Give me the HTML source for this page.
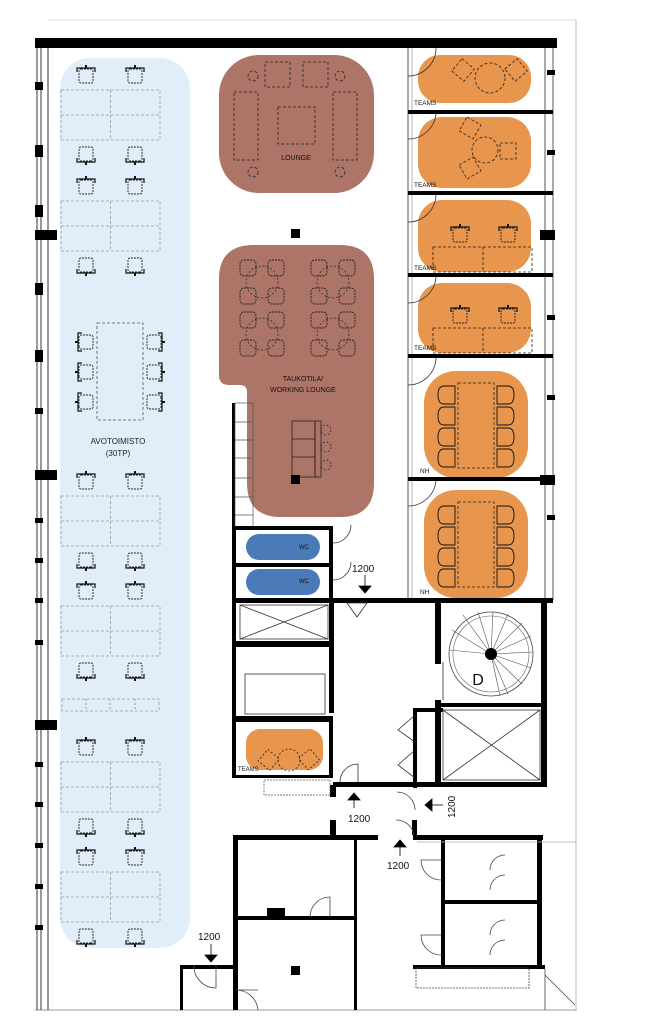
<!DOCTYPE html>
<html><head><meta charset="utf-8"><style>
html,body{margin:0;padding:0;background:#fff}
svg{display:block}
text{font-family:"Liberation Sans",sans-serif}
</style></head><body>
<svg width="653" height="1023" viewBox="0 0 653 1023" xmlns="http://www.w3.org/2000/svg">
<defs>
<g id="ch"><rect x="-7" y="-7" width="14" height="14" rx="2" fill="none" stroke="#222" stroke-width="0.9" stroke-dasharray="2,1"/><path d="M-9,-4 L-9,-8 L9,-8 L9,-4" fill="none" stroke="#111" stroke-width="1.2"/><rect x="-1" y="-11" width="2" height="3" fill="#111"/></g>
<g id="rch"><rect x="-8" y="-8" width="16" height="16" rx="4" fill="none" stroke="#222" stroke-width="0.9" stroke-dasharray="2,1"/></g>
<g id="mch"><path d="M-6,-9 Q-12,-9 -12,0 Q-12,9 -6,9 L5,9 L5,-9 Z" fill="none" stroke="#111" stroke-width="0.9"/></g>
<g id="tbl4"><circle r="16" fill="none" stroke="#222" stroke-width="0.7" stroke-dasharray="2,2"/><use href="#rch" x="-14" y="-14"/><use href="#rch" x="14" y="-14"/><use href="#rch" x="-14" y="14"/><use href="#rch" x="14" y="14"/></g>
<g id="desk"><rect x="0" y="0" width="99" height="50" fill="none" stroke="#999" stroke-width="0.8" stroke-dasharray="3,2"/><line x1="49.5" y1="0" x2="49.5" y2="50" stroke="#999" stroke-width="0.8" stroke-dasharray="3,2"/><line x1="0" y1="25" x2="99" y2="25" stroke="#999" stroke-width="0.8" stroke-dasharray="3,2"/><use href="#ch" x="25" y="-14"/><use href="#ch" x="74" y="-14"/><use href="#ch" x="25" y="64" transform="rotate(180 25 64)"/><use href="#ch" x="74" y="64" transform="rotate(180 74 64)"/></g>
</defs>

<line x1="35" y1="1010" x2="577" y2="1010" stroke="#999" stroke-width="1"/>
<line x1="576" y1="20" x2="576" y2="1010" stroke="#bbb" stroke-width="1"/>
<line x1="48" y1="20" x2="576" y2="20" stroke="#ddd" stroke-width="1"/>

<rect x="60" y="58" width="130" height="890" rx="30" fill="#e1eefa"/>
<use href="#desk" x="61" y="90"/>
<use href="#desk" x="61" y="201"/>
<use href="#desk" x="61" y="496"/>
<use href="#desk" x="61" y="606"/>
<use href="#desk" x="61" y="762"/>
<use href="#desk" x="61" y="872"/>
<rect x="62" y="699" width="97" height="12" fill="none" stroke="#999" stroke-width="0.8" stroke-dasharray="3,2"/>
<line x1="86" y1="699" x2="86" y2="711" stroke="#999" stroke-dasharray="2,2"/><line x1="110" y1="699" x2="110" y2="711" stroke="#999" stroke-dasharray="2,2"/><line x1="135" y1="699" x2="135" y2="711" stroke="#999" stroke-dasharray="2,2"/>
<rect x="97" y="323" width="46" height="97" fill="none" stroke="#555" stroke-width="0.8" stroke-dasharray="3,2"/>
<use href="#ch" x="86" y="342" transform="rotate(-90 86 342)"/><use href="#ch" x="86" y="372" transform="rotate(-90 86 372)"/><use href="#ch" x="86" y="402" transform="rotate(-90 86 402)"/>
<use href="#ch" x="154" y="342" transform="rotate(90 154 342)"/><use href="#ch" x="154" y="372" transform="rotate(90 154 372)"/><use href="#ch" x="154" y="402" transform="rotate(90 154 402)"/>
<text x="118" y="444" font-size="8" text-anchor="middle" fill="#222">AVOTOIMISTO</text>
<text x="118" y="456" font-size="8" text-anchor="middle" fill="#222">(30TP)</text>

<rect x="35" y="38" width="522" height="10" fill="#000"/>
<line x1="37" y1="48" x2="37" y2="1010" stroke="#333" stroke-width="1"/>
<line x1="41" y1="48" x2="41" y2="1010" stroke="#333" stroke-width="1"/>
<line x1="48" y1="48" x2="48" y2="1010" stroke="#333" stroke-width="1"/>
<g fill="#000">
<rect x="35" y="82" width="8" height="8"/><rect x="35" y="145" width="8" height="12"/><rect x="35" y="205" width="8" height="12"/><rect x="35" y="230" width="22" height="10"/>
<rect x="35" y="283" width="8" height="12"/><rect x="35" y="350" width="8" height="12"/><rect x="35" y="408" width="8" height="6"/><rect x="35" y="470" width="22" height="10"/>
<rect x="35" y="518" width="8" height="5"/><rect x="35" y="558" width="8" height="5"/><rect x="35" y="598" width="8" height="5"/><rect x="35" y="640" width="8" height="5"/><rect x="35" y="720" width="22" height="10"/>
<rect x="35" y="762" width="8" height="5"/><rect x="35" y="802" width="8" height="5"/><rect x="35" y="843" width="8" height="5"/><rect x="35" y="884" width="8" height="5"/><rect x="35" y="925" width="8" height="5"/>
</g>

<rect x="219" y="55" width="155" height="138" rx="40" fill="#ac7568"/>
<g fill="none" stroke="#222" stroke-width="0.8" stroke-dasharray="3,2">
<rect x="265" y="62" width="25" height="25"/><rect x="303" y="62" width="25" height="25"/>
<rect x="234" y="92" width="24" height="68"/><rect x="333" y="92" width="24" height="68"/>
<rect x="278" y="107" width="37" height="37"/>
<circle cx="253" cy="76" r="5"/><circle cx="340" cy="76" r="5"/><circle cx="253" cy="172" r="5"/><circle cx="340" cy="172" r="5"/>
</g>
<text x="296" y="160" font-size="7" text-anchor="middle" fill="#111">LOUNGE</text>
<rect x="291" y="229" width="9" height="9" fill="#000"/>

<path d="M254,245 H340 Q374,245 374,279 V483 Q374,517 340,517 H281 Q247,517 247,483 V392 Q247,385 240,385 H229 Q219,385 219,375 V279 Q219,245 254,245 Z" fill="#ac7568"/>
<use href="#tbl4" x="262" y="282"/><use href="#tbl4" x="333" y="282"/><use href="#tbl4" x="262" y="334"/><use href="#tbl4" x="333" y="334"/>
<text x="303" y="381" font-size="7" text-anchor="middle" fill="#111">TAUKOTILA/</text>
<text x="303" y="392" font-size="7" text-anchor="middle" fill="#111">WORKING LOUNGE</text>
<g fill="none" stroke="#222" stroke-width="0.8"><rect x="292" y="421" width="23" height="56"/><line x1="292" y1="439" x2="315" y2="439"/><line x1="292" y1="457" x2="315" y2="457"/><rect x="315" y="421" width="6" height="56"/></g>
<g fill="none" stroke="#222" stroke-width="0.7" stroke-dasharray="2,2"><circle cx="326" cy="430" r="5"/><circle cx="326" cy="447" r="5"/><circle cx="326" cy="465" r="5"/></g>
<rect x="291" y="475" width="9" height="9" fill="#000"/>
<rect x="232" y="403" width="3" height="197" fill="#000"/>
<g fill="none" stroke="#555" stroke-width="0.7"><rect x="235" y="403" width="18" height="125"/><line x1="235" y1="422" x2="253" y2="422"/><line x1="235" y1="440" x2="253" y2="440"/><line x1="235" y1="458" x2="253" y2="458"/><line x1="235" y1="478" x2="253" y2="478"/><line x1="235" y1="497" x2="253" y2="497"/><line x1="235" y1="515" x2="253" y2="515"/></g>

<line x1="408" y1="48" x2="408" y2="600" stroke="#555" stroke-width="1"/>
<line x1="412" y1="48" x2="412" y2="600" stroke="#999" stroke-width="0.7"/>
<line x1="545" y1="48" x2="545" y2="600" stroke="#555" stroke-width="1"/>
<line x1="553" y1="48" x2="553" y2="600" stroke="#555" stroke-width="1"/>
<g fill="#e8954d">
<rect x="418" y="55" width="113" height="48" rx="22"/>
<rect x="418" y="117" width="113" height="71" rx="24"/>
<rect x="418" y="200" width="113" height="72" rx="24"/>
<rect x="418" y="283" width="113" height="70" rx="24"/>
<rect x="424" y="371" width="104" height="107" rx="32"/>
<rect x="424" y="490" width="104" height="108" rx="32"/>
</g>
<g fill="#000">
<rect x="408" y="110" width="145" height="4"/><rect x="408" y="191" width="145" height="4"/><rect x="408" y="273" width="145" height="4"/><rect x="408" y="354" width="145" height="4"/><rect x="408" y="477" width="145" height="4"/>
<rect x="547" y="70" width="8" height="5"/><rect x="547" y="150" width="8" height="5"/><rect x="540" y="230" width="15" height="10"/><rect x="547" y="315" width="8" height="5"/><rect x="547" y="395" width="8" height="5"/><rect x="540" y="475" width="15" height="10"/><rect x="547" y="515" width="8" height="5"/>
</g>
<g fill="none" stroke="#333" stroke-width="0.8">
<path d="M408,76 A28,28 0 0 0 436,48"/><path d="M408,139 A28,28 0 0 0 436,114"/><path d="M408,222 A28,28 0 0 0 436,195"/><path d="M408,303 A28,28 0 0 0 436,277"/><path d="M408,385 A28,28 0 0 0 436,358"/><path d="M408,506 A28,28 0 0 0 436,481"/>
</g>
<g fill="none" stroke="#222" stroke-width="0.8" stroke-dasharray="3,2">
<circle cx="490" cy="78" r="15"/><rect x="455" y="62" width="16" height="16" transform="rotate(40 463 70)"/><rect x="508" y="62" width="16" height="16" transform="rotate(-40 516 70)"/>
<circle cx="485" cy="150" r="13"/><rect x="462" y="120" width="16" height="16" transform="rotate(30 470 128)"/><rect x="500" y="143" width="16" height="16"/><rect x="462" y="160" width="16" height="16" transform="rotate(-30 470 168)"/>
<rect x="433" y="247" width="99" height="25"/><line x1="483" y1="247" x2="483" y2="272"/>
<rect x="433" y="328" width="99" height="25"/><line x1="483" y1="328" x2="483" y2="353"/>
<rect x="458" y="383" width="36" height="85"/><rect x="458" y="502" width="36" height="85"/>
</g>
<use href="#ch" x="460" y="235"/><use href="#ch" x="508" y="235"/><use href="#ch" x="460" y="316"/><use href="#ch" x="508" y="316"/>
<g><use href="#mch" x="450" y="395"/><use href="#mch" x="450" y="416"/><use href="#mch" x="450" y="437"/><use href="#mch" x="450" y="458"/>
<use href="#mch" x="502" y="395" transform="rotate(180 502 395)"/><use href="#mch" x="502" y="416" transform="rotate(180 502 416)"/><use href="#mch" x="502" y="437" transform="rotate(180 502 437)"/><use href="#mch" x="502" y="458" transform="rotate(180 502 458)"/>
<use href="#mch" x="450" y="515"/><use href="#mch" x="450" y="536"/><use href="#mch" x="450" y="557"/><use href="#mch" x="450" y="578"/>
<use href="#mch" x="502" y="515" transform="rotate(180 502 515)"/><use href="#mch" x="502" y="536" transform="rotate(180 502 536)"/><use href="#mch" x="502" y="557" transform="rotate(180 502 557)"/><use href="#mch" x="502" y="578" transform="rotate(180 502 578)"/></g>
<g font-size="6.5" fill="#111"><text x="414" y="105">TEAMS</text><text x="414" y="187">TEAMS</text><text x="414" y="270">TEAMS</text><text x="414" y="350">TEAMS</text><text x="420" y="473">NH</text><text x="420" y="594">NH</text></g>

<rect x="246" y="534" width="74" height="26" rx="13" fill="#4a7ab8"/>
<rect x="246" y="569" width="74" height="26" rx="13" fill="#4a7ab8"/>
<text x="304" y="549" font-size="6" fill="#111" text-anchor="middle">WC</text>
<text x="304" y="583" font-size="6" fill="#111" text-anchor="middle">WC</text>
<g fill="#000">
<rect x="232" y="526" width="101" height="4"/><rect x="232" y="563" width="101" height="4"/>
<rect x="232" y="526" width="4" height="252"/><rect x="329" y="526" width="4" height="74"/>
<rect x="232" y="598" width="321" height="5"/>
<rect x="232" y="641" width="101" height="6"/><rect x="232" y="716" width="101" height="6"/>
<rect x="329" y="598" width="5" height="115"/><rect x="329" y="722" width="4" height="55"/>
<rect x="232" y="775" width="101" height="3"/>
<rect x="333" y="782" width="112" height="5"/><rect x="433" y="782" width="114" height="5"/>
<rect x="435" y="598" width="6" height="66"/><rect x="435" y="700" width="6" height="87"/>
<rect x="413" y="708" width="30" height="4"/><rect x="413" y="708" width="4" height="80"/>
<rect x="441" y="703" width="106" height="4"/>
<rect x="541" y="598" width="6" height="189"/>
<rect x="330" y="785" width="6" height="12"/>
</g>
<g fill="none" stroke="#333" stroke-width="0.8">
<rect x="240" y="605" width="88" height="34"/><path d="M240,605 L328,639 M328,605 L240,639"/>
<rect x="245" y="674" width="80" height="40"/>
<rect x="443" y="710" width="97" height="70"/><path d="M443,710 L540,780 M540,710 L443,780"/>
<path d="M333,543 A18,18 0 0 0 351,525 M333,580 A18,18 0 0 0 351,562"/>
<path d="M347,603 L367,603 L357,617 Z M443,662 L443,700"/>
<path d="M415,715 L398,730 L415,742 M415,750 L398,765 L415,778"/>
<path d="M340,782 A18,18 0 0 1 358,764 L358,782"/>
</g>
<circle cx="491" cy="654" r="42" fill="none" stroke="#444" stroke-width="0.8"/>
<circle cx="491" cy="654" r="38" fill="none" stroke="#666" stroke-width="0.6"/>
<g stroke="#555" stroke-width="0.6">
<path d="M491,654 L449,650 M491,654 L452,630 M491,654 L463,615 M491,654 L478,612 M491,654 L493,612 M491,654 L508,614 M491,654 L522,623 M491,654 L531,636 M491,654 L533,652 M491,654 L531,668 M491,654 L522,684 M491,654 L508,694 M491,654 L500,696"/>
</g>
<circle cx="491" cy="654" r="6" fill="#000"/>
<text x="478" y="685" font-size="16" text-anchor="middle" fill="#111">D</text>
<rect x="246" y="729" width="77" height="41" rx="14" fill="#e8954d"/>
<circle cx="289" cy="760" r="11" fill="none" stroke="#222" stroke-width="0.8" stroke-dasharray="2,2"/>
<rect x="261" y="752" width="15" height="15" fill="none" stroke="#222" stroke-width="0.8" stroke-dasharray="2,2" transform="rotate(40 268 760)"/>
<rect x="302" y="752" width="15" height="15" fill="none" stroke="#222" stroke-width="0.8" stroke-dasharray="2,2" transform="rotate(-40 309 760)"/>
<text x="238" y="771" font-size="6" fill="#111">TEAMS</text>
<rect x="264" y="780" width="66" height="15" fill="none" stroke="#555" stroke-width="0.7" stroke-dasharray="2,1"/>

<g fill="#000">
<rect x="233" y="835" width="145" height="5"/><rect x="413" y="835" width="130" height="5"/>
<rect x="233" y="835" width="5" height="175"/><rect x="354" y="835" width="3" height="175"/>
<rect x="236" y="916" width="120" height="4"/>
<rect x="180" y="965" width="56" height="4"/><rect x="180" y="965" width="3" height="45"/>
<rect x="441" y="840" width="4" height="127"/><rect x="537" y="835" width="5" height="134"/>
<rect x="445" y="900" width="95" height="4"/>
<rect x="413" y="965" width="132" height="4"/>
<rect x="291" y="966" width="9" height="9"/>
<rect x="267" y="908" width="18" height="8"/>
<rect x="330" y="820" width="6" height="15"/><rect x="412" y="820" width="5" height="15"/>
</g>
<g fill="none" stroke="#444" stroke-width="0.8">
<path d="M310,917 A20,20 0 0 1 330,897 L330,917"/>
<path d="M236,990 A22,22 0 0 1 258,1010 M236,990 L258,990"/>
<path d="M194,965 A22,22 0 0 0 216,988 L216,965"/>
<path d="M441,880 A20,20 0 0 1 421,860 L441,860"/><path d="M441,955 A20,20 0 0 1 421,935 L441,935"/>
<path d="M490,870 A15,15 0 0 1 505,855 M490,890 A15,15 0 0 1 505,875 M490,935 A15,15 0 0 1 505,920 M490,955 A15,15 0 0 1 505,940"/>
<rect x="416" y="968" width="113" height="20" stroke-dasharray="2,1"/>
<path d="M545,975 L575,1005 M545,969 L545,1010"/>
<path d="M415,810 A18,18 0 0 0 397,792 M396,820 A18,18 0 0 1 414,835"/>
</g>
<line x1="417" y1="842" x2="576" y2="842" stroke="#aaa" stroke-width="0.7"/>

<g font-size="10" fill="#111">
<text x="352" y="572">1200</text>
<text x="348" y="822">1200</text>
<text x="387" y="869">1200</text>
<text x="198" y="940">1200</text>
<text x="455" y="818" transform="rotate(-90 455 818)">1200</text>
</g>
<g fill="#000" stroke="#000" stroke-width="0.8">
<line x1="365" y1="575" x2="365" y2="586"/><path d="M359,586 L371,586 L365,593 Z"/>
<line x1="400" y1="845" x2="400" y2="856"/><path d="M394,847 L406,847 L400,840 Z"/>
<line x1="211" y1="944" x2="211" y2="955"/><path d="M205,955 L217,955 L211,962 Z"/>
<line x1="432" y1="805" x2="443" y2="805"/><path d="M432,799 L432,811 L425,805 Z"/>
<line x1="354" y1="798" x2="354" y2="808"/><path d="M348,800 L360,800 L354,793 Z"/>
</g>
</svg>
</body></html>
